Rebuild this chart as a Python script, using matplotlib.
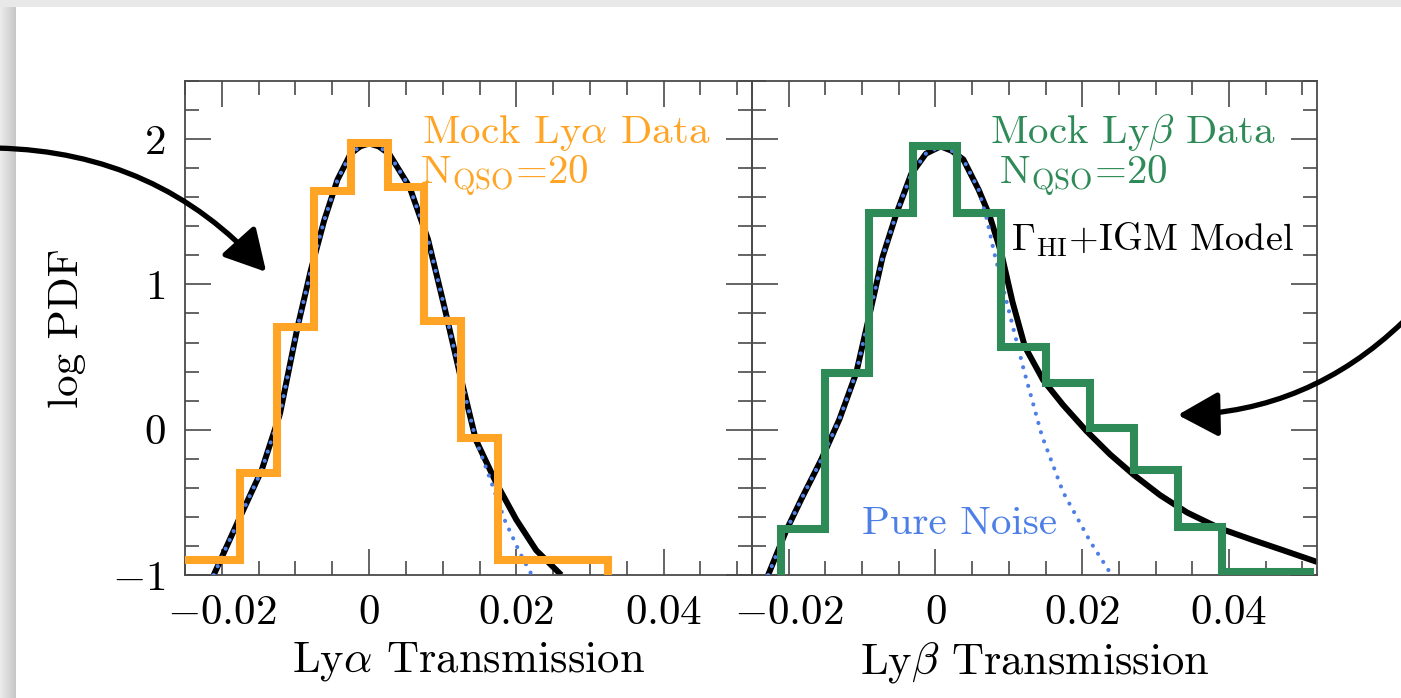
import numpy as np
import matplotlib
matplotlib.use('Agg')
import matplotlib.pyplot as plt
from matplotlib.patches import FancyArrowPatch, Rectangle
from matplotlib.ticker import MultipleLocator, FuncFormatter

plt.rcParams['font.family'] = 'serif'
plt.rcParams['font.serif'] = ['cmr10']
plt.rcParams['mathtext.fontset'] = 'cm'
plt.rcParams['axes.unicode_minus'] = False
plt.rcParams['axes.formatter.use_mathtext'] = True

# --- Ly alpha panel ---
lya_edges = [-0.0275, -0.0225, -0.0175, -0.0125, -0.0075, -0.0025, 0.0025,
             0.0075, 0.0125, 0.0175, 0.0225, 0.0275, 0.0325]
lya_hist = [-0.90, -0.90, -0.30, 0.71, 1.64, 1.97, 1.67, 0.75, -0.06,
            -0.90, -0.90, -0.90]

lya_model_x = [-0.0211, -0.0177, -0.0146, -0.0121, -0.0097, -0.0079, -0.0061,
               -0.0043, -0.0025, -0.0012, 0.0, 0.0013, 0.0027, 0.0055, 0.0080,
               0.0102, 0.0123, 0.0145, 0.0173, 0.0200, 0.0227, 0.0261]
lya_model_y = [-1.0, -0.62, -0.28, 0.11, 0.71, 1.10, 1.44, 1.72, 1.90, 1.95,
               1.97, 1.95, 1.90, 1.67, 1.31, 0.85, 0.39, -0.07, -0.37, -0.62,
               -0.83, -1.0]

lya_noise_x = [-0.0211, -0.0177, -0.0146, -0.0121, -0.0097, -0.0079, -0.0061,
               -0.0043, -0.0025, -0.0012, 0.0, 0.0013, 0.0027, 0.0055, 0.0080,
               0.0102, 0.0123, 0.0145, 0.0168, 0.0184, 0.0205, 0.0221]
lya_noise_y = [-1.0, -0.62, -0.28, 0.11, 0.71, 1.10, 1.44, 1.72, 1.90, 1.95,
               1.97, 1.95, 1.90, 1.67, 1.31, 0.85, 0.39, -0.07, -0.39, -0.62,
               -0.85, -1.0]

# --- Ly beta panel ---
lyb_edges = [-0.021, -0.015, -0.009, -0.003, 0.003, 0.009, 0.015, 0.021,
             0.027, 0.033, 0.039, 0.045, 0.051]
lyb_hist = [-0.68, 0.39, 1.49, 1.95, 1.49, 0.57, 0.32, 0.01, -0.28, -0.67,
            -0.98, -0.98]

lyb_model_x = [-0.0228, -0.0203, -0.0181, -0.0156, -0.0131, -0.0108, -0.0089,
               -0.0072, -0.0053, -0.0033, -0.0013, 0.0007, 0.0022, 0.0038,
               0.0059, 0.0074, 0.0090, 0.0105, 0.0122, 0.0147, 0.0174, 0.0206,
               0.0238, 0.0270, 0.0306, 0.0343, 0.0388, 0.0433, 0.0474, 0.0520]
lyb_model_y = [-1.0, -0.69, -0.46, -0.21, 0.07, 0.39, 0.81, 1.19, 1.49, 1.76,
               1.90, 1.95, 1.92, 1.86, 1.65, 1.47, 1.21, 0.88, 0.57, 0.34,
               0.17, -0.01, -0.17, -0.31, -0.45, -0.57, -0.68, -0.76, -0.83,
               -0.91]

lyb_noise_x = [-0.0228, -0.0203, -0.0181, -0.0156, -0.0131, -0.0108, -0.0089,
               -0.0072, -0.0053, -0.0033, -0.0013, 0.0007, 0.0022, 0.0038,
               0.0059, 0.0070, 0.0080, 0.0097, 0.0120, 0.0145, 0.0174, 0.0211,
               0.0240]
lyb_noise_y = [-1.0, -0.69, -0.46, -0.21, 0.07, 0.39, 0.81, 1.19, 1.49, 1.76,
               1.90, 1.95, 1.92, 1.86, 1.65, 1.45, 1.22, 0.88, 0.42, -0.04,
               -0.43, -0.77, -1.0]

orange = '#ffa424'
green = '#2e8b57'
blue = '#4d7fe6'
axcol = '#4a4a4a'

W, H = 1401, 698
fig = plt.figure(figsize=(W / 100, H / 100), dpi=100)


def fx(px):
    return px / W


def fy(py):
    return 1 - py / H


# slide frame / shadow
bg = fig.add_axes([0, 0, 1, 1], zorder=-5)
bg.axis('off')
shade = np.linspace(0.92, 0.78, 16)[None, :]
bg.imshow(shade, cmap='gray', vmin=0, vmax=1, extent=(0, 16, H, 0), aspect='auto')
bg.add_patch(Rectangle((0, 0), W, 7, color='#e8e8e8', lw=0))
bg.set_xlim(0, W)
bg.set_ylim(H, 0)

ax1 = fig.add_axes([fx(185), 1 - 575 / H, 567 / W, 494 / H])
ax2 = fig.add_axes([fx(752), 1 - 575 / H, 565 / W, 494 / H], sharey=ax1)

fmt = FuncFormatter(lambda v, p: '$%g$' % (round(v, 4) + 0.0))

for ax in (ax1, ax2):
    ax.set_facecolor('none')
    ax.set_xlim(-0.025, 0.052)
    ax.set_ylim(-1, 2.4)
    ax.xaxis.set_major_locator(MultipleLocator(0.02))
    ax.xaxis.set_minor_locator(MultipleLocator(0.005))
    ax.yaxis.set_major_locator(MultipleLocator(1))
    ax.yaxis.set_minor_locator(MultipleLocator(0.2))
    ax.xaxis.set_major_formatter(fmt)
    ax.yaxis.set_major_formatter(fmt)
    ax.tick_params(which='both', direction='in', top=True, right=True,
                   color=axcol, width=1.2)
    ax.tick_params(which='major', length=19, pad=14, labelsize=31)
    ax.tick_params(which='minor', length=10)
    for s in ax.spines.values():
        s.set_color(axcol)
        s.set_linewidth(1.3)

ax2.tick_params(labelleft=False)

# Ly alpha
ax1.plot(lya_model_x, lya_model_y, color='black', lw=4.3,
         solid_capstyle='butt', zorder=2)
ax1.plot(lya_noise_x, lya_noise_y, color=blue, lw=3.0,
         linestyle=(0, (0.01, 2.3)), dash_capstyle='round', zorder=3)
ax1.stairs(lya_hist, lya_edges, baseline=-1, fill=False, color=orange,
           lw=5.8, zorder=4)

# Ly beta
ax2.plot(lyb_model_x, lyb_model_y, color='black', lw=4.3,
         solid_capstyle='butt', zorder=2)
ax2.plot(lyb_noise_x, lyb_noise_y, color=blue, lw=3.0,
         linestyle=(0, (0.01, 2.3)), dash_capstyle='round', zorder=3)
ax2.stairs(lyb_hist, lyb_edges, baseline=-1, fill=False, color=green,
           lw=5.8, zorder=4)

ax1.text(0.0464, 1.97, r'Mock Ly$\alpha$ Data', color=orange, fontsize=29.5,
         ha='right', va='baseline')
ax1.text(0.0184, 1.69, r'N$_{\rm QSO}$=20', color=orange, fontsize=29.5,
         ha='center', va='baseline')
ax2.text(0.0463, 1.97, r'Mock Ly$\beta$ Data', color=green, fontsize=29.5,
         ha='right', va='baseline')
ax2.text(0.0201, 1.69, r'N$_{\rm QSO}$=20', color=green, fontsize=29.5,
         ha='center', va='baseline')
ax2.text(0.0488, 1.23, r'$\Gamma_{\rm HI}$+IGM Model', color='black',
         fontsize=27.5, ha='right', va='baseline')
ax2.text(0.0033, -0.72, 'Pure Noise', color=blue, fontsize=29.5,
         ha='center', va='baseline')

ax1.set_xlabel(r'Ly$\alpha$ Transmission', fontsize=32, labelpad=6)
ax2.set_xlabel(r'Ly$\beta$ Transmission', fontsize=32, labelpad=6)
ax1.set_ylabel('log PDF', fontsize=31)
ax1.yaxis.set_label_coords(-0.175, 0.5)

# arrows pointing in from the slide
arrow_kw = dict(arrowstyle='-|>,head_length=1.0,head_width=0.55',
                mutation_scale=25, lw=3.8, color='black',
                transform=fig.transFigure, zorder=10)
fig.add_artist(FancyArrowPatch((fx(-5), fy(148)), (fx(268), fy(274)),
                               connectionstyle='arc3,rad=-0.22', **arrow_kw))
fig.add_artist(FancyArrowPatch((fx(1405), fy(320)), (fx(1175), fy(415)),
                               connectionstyle='arc3,rad=-0.2', **arrow_kw))

fig.savefig('out.png', dpi=100, facecolor='white')
